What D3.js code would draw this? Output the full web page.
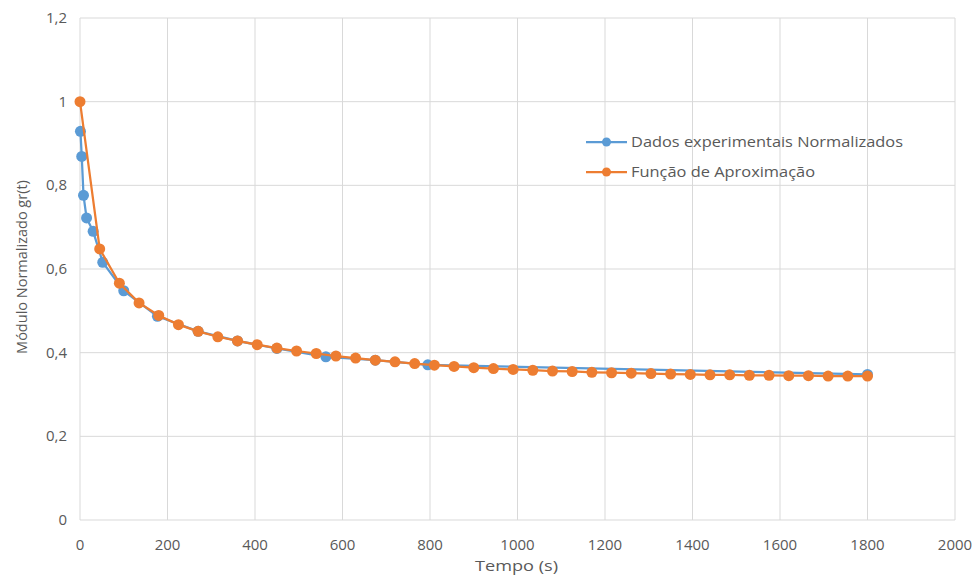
<!DOCTYPE html>
<html><head><meta charset="utf-8">
<script src="https://cdn.jsdelivr.net/npm/d3@7"></script>
<style>body{margin:0;background:#fff;} text{font-family:"Open Sans",sans-serif;fill:#595959;}</style>
</head><body><svg id="c" width="978" height="577"></svg>
<script>
const expTime = [1, 4, 8, 15, 30, 52, 100, 177, 270, 360, 450, 562, 675, 795, 1800];
const expValue = [0.929, 0.869, 0.776, 0.722, 0.690, 0.616, 0.548, 0.487, 0.451, 0.428, 0.410, 0.390, 0.382, 0.371, 0.348];
const fitTime = [0,45,90,135,180,225,270,315,360,405,450,495,540,585,630,675,720,765,810,855,900,945,990,1035,1080,1125,1170,1215,1260,1305,1350,1395,1440,1485,1530,1575,1620,1665,1710,1755,1800];
const fitValue = [1.0,0.648,0.566,0.519,0.489,0.467,0.451,0.438,0.428,0.419,0.411,0.404,0.398,0.392,0.387,0.382,0.378,0.374,0.370,0.367,0.364,0.362,0.360,0.358,0.356,0.355,0.353,0.352,0.351,0.350,0.349,0.348,0.347,0.347,0.346,0.346,0.345,0.345,0.344,0.344,0.344];
const xTicks = [0,200,400,600,800,1000,1200,1400,1600,1800,2000];
const yTicks = [0,0.2,0.4,0.6,0.8,1.0,1.2];
const seriesNames = ["Dados experimentais Normalizados","Função de Aproximação"];
const colors = ["#5B9BD5","#ED7D31"];

const svg = d3.select("#c");
const x = d3.scaleLinear().domain([0,2000]).range([80,955]);
const y = d3.scaleLinear().domain([0,1.2]).range([520,18]);
const fmt = v => String(+v.toFixed(1)).replace(".", ",");

svg.append("g").selectAll("line").data(xTicks).join("line")
  .attr("x1",d=>x(d)).attr("x2",d=>x(d)).attr("y1",y(0)).attr("y2",y(1.2))
  .attr("stroke","#D9D9D9").attr("stroke-width",1);
svg.append("g").selectAll("line").data(yTicks).join("line")
  .attr("x1",x(0)).attr("x2",x(2000)).attr("y1",d=>y(d)).attr("y2",d=>y(d))
  .attr("stroke","#D9D9D9").attr("stroke-width",1);

svg.append("g").selectAll("text").data(xTicks).join("text")
  .attr("x",d=>x(d)).attr("y",550).attr("text-anchor","middle")
  .attr("font-size",15).text(d=>d);
svg.append("g").selectAll("text").data(yTicks).join("text")
  .attr("x",67).attr("y",d=>y(d)+5).attr("text-anchor","end")
  .attr("font-size",15).text(d=>fmt(d));

svg.append("text").attr("x",475).attr("y",571)
  .attr("font-size",15).attr("textLength",83).attr("lengthAdjust","spacingAndGlyphs").text("Tempo (s)");
svg.append("text").attr("transform","translate(27,267) rotate(-90)").attr("text-anchor","middle")
  .attr("font-size",14.5).text("Módulo Normalizado gr(t)");

const line = d3.line().x(d=>x(d[0])).y(d=>y(d[1]));
const series = [d3.zip(expTime, expValue), d3.zip(fitTime, fitValue)];
series.forEach((s,i)=>{
  svg.append("path").datum(s).attr("d",line).attr("fill","none")
    .attr("stroke",colors[i]).attr("stroke-width",2.25).attr("stroke-linejoin","round");
  svg.append("g").selectAll("circle").data(s).join("circle")
    .attr("cx",d=>x(d[0])).attr("cy",d=>y(d[1])).attr("r",5.5).attr("fill",colors[i]);
});

const lg = svg.append("g");
const lens = [272, 184];
seriesNames.forEach((n,i)=>{
  const ly = 142 + i*30;
  lg.append("line").attr("x1",586).attr("x2",627).attr("y1",ly).attr("y2",ly)
    .attr("stroke",colors[i]).attr("stroke-width",2.25);
  lg.append("circle").attr("cx",606.5).attr("cy",ly).attr("r",4.5).attr("fill",colors[i]);
  lg.append("text").attr("x",631).attr("y",ly+5).attr("font-size",15)
    .attr("textLength",lens[i]).attr("lengthAdjust","spacingAndGlyphs").text(n);
});
</script></body></html>
